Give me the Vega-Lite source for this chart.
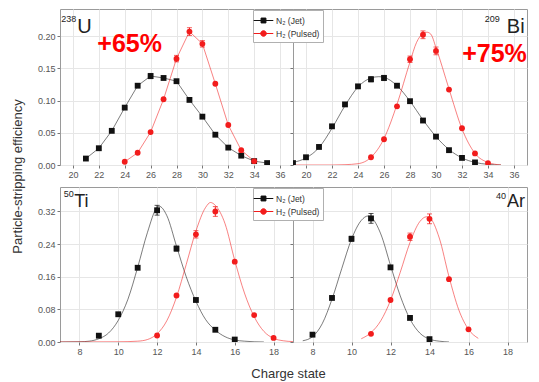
{
"$schema": "https://vega.github.io/schema/vega-lite/v6.json",
"padding": {"left": 10, "top": 8, "right": 5, "bottom": 5},
"config": {
 "view": {"stroke": "#9a9a9a", "strokeWidth": 1},
 "font": "Liberation Sans",
 "axis": {"domain": false, "tickSize": 3, "tickColor": "#777777", "labelFontSize": 9, "labelColor": "#555555", "gridColor": "#e6e6e6", "labelFont": "Liberation Sans", "labelPadding": 2}
},
"datasets": {
 "pts": [
  {"p":"U","s":"N2","q":21,"e":0.010,"err":0},{"p":"U","s":"N2","q":22,"e":0.026,"err":0},{"p":"U","s":"N2","q":23,"e":0.053,"err":0},{"p":"U","s":"N2","q":24,"e":0.089,"err":0},{"p":"U","s":"N2","q":25,"e":0.123,"err":0},{"p":"U","s":"N2","q":26,"e":0.138,"err":0.004},{"p":"U","s":"N2","q":27,"e":0.135,"err":0},{"p":"U","s":"N2","q":28,"e":0.130,"err":0},{"p":"U","s":"N2","q":29,"e":0.101,"err":0},{"p":"U","s":"N2","q":30,"e":0.075,"err":0},{"p":"U","s":"N2","q":31,"e":0.047,"err":0},{"p":"U","s":"N2","q":32,"e":0.027,"err":0},{"p":"U","s":"N2","q":33,"e":0.0145,"err":0},{"p":"U","s":"N2","q":34,"e":0.006,"err":0},{"p":"U","s":"N2","q":35,"e":0.003,"err":0},
  {"p":"U","s":"H2","q":24,"e":0.005,"err":0},{"p":"U","s":"H2","q":25,"e":0.019,"err":0},{"p":"U","s":"H2","q":26,"e":0.051,"err":0},{"p":"U","s":"H2","q":27,"e":0.102,"err":0},{"p":"U","s":"H2","q":28,"e":0.165,"err":0.005},{"p":"U","s":"H2","q":29,"e":0.207,"err":0.006},{"p":"U","s":"H2","q":30,"e":0.188,"err":0.005},{"p":"U","s":"H2","q":31,"e":0.126,"err":0},{"p":"U","s":"H2","q":32,"e":0.062,"err":0},{"p":"U","s":"H2","q":33,"e":0.023,"err":0},{"p":"U","s":"H2","q":34,"e":0.006,"err":0},
  {"p":"Bi","s":"N2","q":19,"e":0.003,"err":0},{"p":"Bi","s":"N2","q":20,"e":0.012,"err":0},{"p":"Bi","s":"N2","q":21,"e":0.028,"err":0},{"p":"Bi","s":"N2","q":22,"e":0.060,"err":0},{"p":"Bi","s":"N2","q":23,"e":0.094,"err":0},{"p":"Bi","s":"N2","q":24,"e":0.122,"err":0},{"p":"Bi","s":"N2","q":25,"e":0.133,"err":0.004},{"p":"Bi","s":"N2","q":26,"e":0.135,"err":0.004},{"p":"Bi","s":"N2","q":27,"e":0.123,"err":0},{"p":"Bi","s":"N2","q":28,"e":0.099,"err":0},{"p":"Bi","s":"N2","q":29,"e":0.069,"err":0},{"p":"Bi","s":"N2","q":30,"e":0.044,"err":0},{"p":"Bi","s":"N2","q":31,"e":0.023,"err":0},{"p":"Bi","s":"N2","q":32,"e":0.011,"err":0},{"p":"Bi","s":"N2","q":33,"e":0.004,"err":0},
  {"p":"Bi","s":"H2","q":25,"e":0.012,"err":0},{"p":"Bi","s":"H2","q":26,"e":0.040,"err":0},{"p":"Bi","s":"H2","q":27,"e":0.091,"err":0},{"p":"Bi","s":"H2","q":28,"e":0.164,"err":0.005},{"p":"Bi","s":"H2","q":29,"e":0.202,"err":0.006},{"p":"Bi","s":"H2","q":30,"e":0.177,"err":0.006},{"p":"Bi","s":"H2","q":31,"e":0.117,"err":0},{"p":"Bi","s":"H2","q":32,"e":0.057,"err":0},{"p":"Bi","s":"H2","q":33,"e":0.018,"err":0},{"p":"Bi","s":"H2","q":34,"e":0.003,"err":0},
  {"p":"Ti","s":"N2","q":9,"e":0.0155,"err":0},{"p":"Ti","s":"N2","q":10,"e":0.068,"err":0},{"p":"Ti","s":"N2","q":11,"e":0.182,"err":0},{"p":"Ti","s":"N2","q":12,"e":0.323,"err":0.012},{"p":"Ti","s":"N2","q":13,"e":0.229,"err":0.006},{"p":"Ti","s":"N2","q":14,"e":0.103,"err":0},{"p":"Ti","s":"N2","q":15,"e":0.030,"err":0},{"p":"Ti","s":"N2","q":16,"e":0.006,"err":0},
  {"p":"Ti","s":"H2","q":12,"e":0.016,"err":0},{"p":"Ti","s":"H2","q":13,"e":0.114,"err":0},{"p":"Ti","s":"H2","q":14,"e":0.264,"err":0.009},{"p":"Ti","s":"H2","q":15,"e":0.320,"err":0.012},{"p":"Ti","s":"H2","q":16,"e":0.197,"err":0},{"p":"Ti","s":"H2","q":17,"e":0.066,"err":0},{"p":"Ti","s":"H2","q":18,"e":0.010,"err":0},
  {"p":"Ar","s":"N2","q":8,"e":0.018,"err":0},{"p":"Ar","s":"N2","q":9,"e":0.108,"err":0},{"p":"Ar","s":"N2","q":10,"e":0.253,"err":0.006},{"p":"Ar","s":"N2","q":11,"e":0.303,"err":0.012},{"p":"Ar","s":"N2","q":12,"e":0.183,"err":0},{"p":"Ar","s":"N2","q":13,"e":0.059,"err":0},{"p":"Ar","s":"N2","q":14,"e":0.007,"err":0},
  {"p":"Ar","s":"H2","q":11,"e":0.020,"err":0},{"p":"Ar","s":"H2","q":12,"e":0.103,"err":0},{"p":"Ar","s":"H2","q":13,"e":0.258,"err":0.009},{"p":"Ar","s":"H2","q":14,"e":0.302,"err":0.012},{"p":"Ar","s":"H2","q":15,"e":0.154,"err":0},{"p":"Ar","s":"H2","q":16,"e":0.031,"err":0}
 ],
 "fit": [
  {"p":"Bi","s":"N2","q":19,"e":0.004},{"p":"Bi","s":"N2","q":20,"e":0.011},{"p":"Bi","s":"N2","q":21,"e":0.027},{"p":"Bi","s":"N2","q":22,"e":0.057},{"p":"Bi","s":"N2","q":23,"e":0.092},{"p":"Bi","s":"N2","q":24,"e":0.121},{"p":"Bi","s":"N2","q":25,"e":0.135},{"p":"Bi","s":"N2","q":25.6,"e":0.137},{"p":"Bi","s":"N2","q":26,"e":0.136},{"p":"Bi","s":"N2","q":27,"e":0.123},{"p":"Bi","s":"N2","q":28,"e":0.099},{"p":"Bi","s":"N2","q":29,"e":0.070},{"p":"Bi","s":"N2","q":30,"e":0.044},{"p":"Bi","s":"N2","q":31,"e":0.024},{"p":"Bi","s":"N2","q":32,"e":0.011},{"p":"Bi","s":"N2","q":33,"e":0.004},{"p":"Bi","s":"N2","q":34,"e":0.001},{"p":"Bi","s":"N2","q":35,"e":0.0},
  {"p":"Bi","s":"H2","q":19,"e":0.0},{"p":"Bi","s":"H2","q":22,"e":0.0},{"p":"Bi","s":"H2","q":23,"e":0.0005},{"p":"Bi","s":"H2","q":24,"e":0.002},{"p":"Bi","s":"H2","q":25,"e":0.012},{"p":"Bi","s":"H2","q":26,"e":0.041},{"p":"Bi","s":"H2","q":27,"e":0.094},{"p":"Bi","s":"H2","q":28,"e":0.160},{"p":"Bi","s":"H2","q":28.5,"e":0.190},{"p":"Bi","s":"H2","q":29,"e":0.204},{"p":"Bi","s":"H2","q":29.3,"e":0.206},{"p":"Bi","s":"H2","q":29.6,"e":0.203},{"p":"Bi","s":"H2","q":30,"e":0.182},{"p":"Bi","s":"H2","q":31,"e":0.118},{"p":"Bi","s":"H2","q":32,"e":0.056},{"p":"Bi","s":"H2","q":33,"e":0.018},{"p":"Bi","s":"H2","q":34,"e":0.004},{"p":"Bi","s":"H2","q":35,"e":0.0},
  {"p":"Ti","s":"N2","q":7,"e":0.0},{"p":"Ti","s":"N2","q":8,"e":0.0005},{"p":"Ti","s":"N2","q":8.5,"e":0.002},{"p":"Ti","s":"N2","q":9,"e":0.008},{"p":"Ti","s":"N2","q":9.5,"e":0.022},{"p":"Ti","s":"N2","q":10,"e":0.053},{"p":"Ti","s":"N2","q":10.5,"e":0.105},{"p":"Ti","s":"N2","q":11,"e":0.183},{"p":"Ti","s":"N2","q":11.5,"e":0.268},{"p":"Ti","s":"N2","q":12,"e":0.330},{"p":"Ti","s":"N2","q":12.1,"e":0.333},{"p":"Ti","s":"N2","q":12.5,"e":0.310},{"p":"Ti","s":"N2","q":13,"e":0.235},{"p":"Ti","s":"N2","q":13.5,"e":0.160},{"p":"Ti","s":"N2","q":14,"e":0.100},{"p":"Ti","s":"N2","q":14.5,"e":0.055},{"p":"Ti","s":"N2","q":15,"e":0.029},{"p":"Ti","s":"N2","q":15.5,"e":0.013},{"p":"Ti","s":"N2","q":16,"e":0.005},{"p":"Ti","s":"N2","q":16.5,"e":0.002},{"p":"Ti","s":"N2","q":17,"e":0.0005},{"p":"Ti","s":"N2","q":17.5,"e":0.0},
  {"p":"Ti","s":"H2","q":7,"e":0.0},{"p":"Ti","s":"H2","q":10,"e":0.0005},{"p":"Ti","s":"H2","q":11,"e":0.002},{"p":"Ti","s":"H2","q":11.5,"e":0.006},{"p":"Ti","s":"H2","q":12,"e":0.020},{"p":"Ti","s":"H2","q":12.5,"e":0.052},{"p":"Ti","s":"H2","q":13,"e":0.110},{"p":"Ti","s":"H2","q":13.5,"e":0.190},{"p":"Ti","s":"H2","q":14,"e":0.272},{"p":"Ti","s":"H2","q":14.5,"e":0.330},{"p":"Ti","s":"H2","q":14.75,"e":0.342},{"p":"Ti","s":"H2","q":15,"e":0.335},{"p":"Ti","s":"H2","q":15.5,"e":0.290},{"p":"Ti","s":"H2","q":16,"e":0.200},{"p":"Ti","s":"H2","q":16.5,"e":0.120},{"p":"Ti","s":"H2","q":17,"e":0.062},{"p":"Ti","s":"H2","q":17.5,"e":0.026},{"p":"Ti","s":"H2","q":18,"e":0.009},{"p":"Ti","s":"H2","q":18.5,"e":0.003},{"p":"Ti","s":"H2","q":19,"e":0.001},
  {"p":"Ar","s":"N2","q":7.5,"e":0.003},{"p":"Ar","s":"N2","q":8,"e":0.013},{"p":"Ar","s":"N2","q":8.5,"e":0.045},{"p":"Ar","s":"N2","q":9,"e":0.105},{"p":"Ar","s":"N2","q":9.5,"e":0.180},{"p":"Ar","s":"N2","q":10,"e":0.252},{"p":"Ar","s":"N2","q":10.5,"e":0.298},{"p":"Ar","s":"N2","q":10.85,"e":0.309},{"p":"Ar","s":"N2","q":11,"e":0.306},{"p":"Ar","s":"N2","q":11.5,"e":0.265},{"p":"Ar","s":"N2","q":12,"e":0.188},{"p":"Ar","s":"N2","q":12.5,"e":0.113},{"p":"Ar","s":"N2","q":13,"e":0.056},{"p":"Ar","s":"N2","q":13.5,"e":0.022},{"p":"Ar","s":"N2","q":14,"e":0.007},{"p":"Ar","s":"N2","q":14.5,"e":0.002},{"p":"Ar","s":"N2","q":15,"e":0.0},
  {"p":"Ar","s":"H2","q":10.5,"e":0.008},{"p":"Ar","s":"H2","q":11,"e":0.023},{"p":"Ar","s":"H2","q":11.5,"e":0.052},{"p":"Ar","s":"H2","q":12,"e":0.102},{"p":"Ar","s":"H2","q":12.5,"e":0.171},{"p":"Ar","s":"H2","q":13,"e":0.244},{"p":"Ar","s":"H2","q":13.5,"e":0.295},{"p":"Ar","s":"H2","q":13.85,"e":0.307},{"p":"Ar","s":"H2","q":14,"e":0.305},{"p":"Ar","s":"H2","q":14.5,"e":0.255},{"p":"Ar","s":"H2","q":15,"e":0.160},{"p":"Ar","s":"H2","q":15.5,"e":0.079},{"p":"Ar","s":"H2","q":16,"e":0.031},{"p":"Ar","s":"H2","q":16.5,"e":0.009}
 ]
},
"resolve": {"legend": {"color": "independent"}},
"columns": 2,
"spacing": {"row": 22, "column": 0},
"bounds": "flush",
"concat": [
  {"width": 233, "height": 156,
   "encoding": {
    "x": {"field": "q", "type": "quantitative", "scale": {"domain": [19, 37], "nice": false, "zero": false}, "axis": {"values": [20,22,24,26,28,30,32,34,36], "format": "d", "title": null, "grid": true}},
    "y": {"field": "e", "type": "quantitative", "scale": {"domain": [0, 0.242], "nice": false, "zero": false}, "axis": {"values": [0,0.05,0.1,0.15,0.2], "format": ".2f", "grid": true, "title": "Particle-stripping efficiency", "titleX": -39, "titleY": 167, "titleAlign": "center", "titleBaseline": "alphabetic", "titleFontSize": 13, "titleFontWeight": "normal", "titleColor": "#333333", "titleFont": "Liberation Sans"}},
    "color": {"field": "s", "type": "nominal", "scale": {"domain": ["N2", "H2"], "range": ["#111111", "#f21c1c"]}, "legend": null}
   },
   "layer": [
   {"data": {"name": "pts"}, "transform": [{"filter": "datum.p === 'U'"}],
    "mark": {"type": "line", "strokeWidth": 1, "opacity": 0.55, "clip": true}},
   {"data": {"name": "pts"}, "transform": [{"filter": "datum.p === 'U' && datum.err > 0"}],
    "mark": {"type": "errorbar", "ticks": true, "thickness": 1},
    "encoding": {"yError": {"field": "err"}}},
   {"data": {"name": "pts"}, "transform": [{"filter": "datum.p === 'U'"}],
    "mark": {"type": "point", "filled": true, "size": 34, "opacity": 1, "clip": true},
    "encoding": {"shape": {"field": "s", "type": "nominal", "scale": {"domain": ["N2", "H2"], "range": ["square", "circle"]}, "legend": null}}},
   {"data": {"name": "pts"}, "transform": [{"filter": "datum.p === 'U' && datum.q === 21 && datum.s === 'N2'"}], "mark": {"type": "text", "fontSize": 9, "align": "center", "baseline": "alphabetic"},
    "encoding": {"x": {"datum": 19.67, "type": "quantitative"}, "y": {"datum": 0.2226, "type": "quantitative"}, "text": {"value": "238"}, "color": {"value": "#222222"}}},
   {"data": {"name": "pts"}, "transform": [{"filter": "datum.p === 'U' && datum.q === 21 && datum.s === 'N2'"}], "mark": {"type": "text", "fontSize": 20, "align": "left", "baseline": "alphabetic"},
    "encoding": {"x": {"datum": 20.33, "type": "quantitative"}, "y": {"datum": 0.2048, "type": "quantitative"}, "text": {"value": "U"}, "color": {"value": "#222222"}}},
   {"data": {"name": "pts"}, "transform": [{"filter": "datum.p === 'U' && datum.q === 21 && datum.s === 'N2'"}], "mark": {"type": "text", "fontSize": 25, "fontWeight": "bold", "align": "center", "baseline": "middle"},
    "encoding": {"x": {"datum": 24.38, "type": "quantitative"}, "y": {"datum": 0.1877, "type": "quantitative"}, "text": {"value": "+65%"}, "color": {"value": "#ff0000"}}}
  ]},
  {"width": 234, "height": 156,
   "encoding": {
    "x": {"field": "q", "type": "quantitative", "scale": {"domain": [19, 37], "nice": false, "zero": false}, "axis": {"values": [20,22,24,26,28,30,32,34,36], "format": "d", "title": null, "grid": true}},
    "y": {"field": "e", "type": "quantitative", "scale": {"domain": [0, 0.242], "nice": false, "zero": false}, "axis": {"values": [0,0.05,0.1,0.15,0.2], "labels": false, "grid": true, "title": null}},
    "color": {"field": "s", "type": "nominal", "legend": {"title": null, "orient": "none", "legendX": -40, "legendY": 1, "direction": "vertical", "fillColor": "#ffffff", "strokeColor": "#b0b0b0", "padding": 3, "labelFontSize": 8.5, "labelColor": "#333333", "labelFont": "Liberation Sans", "symbolSize": 196, "symbolStrokeWidth": 1, "rowPadding": 1, "labelOffset": 5, "labelExpr": "datum.value === 'N2' ? 'N₂ (Jet)' : 'H₂ (Pulsed)'", "encode": {"symbols": {"update": {"shape": {"signal": "datum.value === 'N2' ? 'M-1.4,0H1.4M-0.35,-0.35H0.35V0.35H-0.35Z' : 'M-1.4,0H1.4M0.4,0A0.4,0.4,0,1,1,-0.4,0A0.4,0.4,0,1,1,0.4,0Z'"}, "fill": {"signal": "datum.value === 'N2' ? '#111111' : '#f21c1c'"}, "stroke": {"signal": "datum.value === 'N2' ? '#111111' : '#f21c1c'"}}}}}}
   },
   "layer": [
   {"data": {"name": "fit"}, "transform": [{"filter": "datum.p === 'Bi'"}],
    "mark": {"type": "line", "interpolate": "monotone", "strokeWidth": 1, "opacity": 0.55, "clip": true}},
   {"data": {"name": "pts"}, "transform": [{"filter": "datum.p === 'Bi' && datum.err > 0"}],
    "mark": {"type": "errorbar", "ticks": true, "thickness": 1},
    "encoding": {"yError": {"field": "err"}}},
   {"data": {"name": "pts"}, "transform": [{"filter": "datum.p === 'Bi'"}],
    "mark": {"type": "point", "filled": true, "size": 34, "opacity": 1, "clip": true},
    "encoding": {"shape": {"field": "s", "type": "nominal", "scale": {"domain": ["N2", "H2"], "range": ["square", "circle"]}, "legend": null}}},
   {"data": {"name": "pts"}, "transform": [{"filter": "datum.p === 'Bi' && datum.q === 19 && datum.s === 'N2'"}], "mark": {"type": "text", "fontSize": 9, "align": "right", "baseline": "alphabetic"},
    "encoding": {"x": {"datum": 34.9, "type": "quantitative"}, "y": {"datum": 0.2218, "type": "quantitative"}, "text": {"value": "209"}, "color": {"value": "#222222"}}},
   {"data": {"name": "pts"}, "transform": [{"filter": "datum.p === 'Bi' && datum.q === 19 && datum.s === 'N2'"}], "mark": {"type": "text", "fontSize": 20, "align": "right", "baseline": "alphabetic"},
    "encoding": {"x": {"datum": 36.82, "type": "quantitative"}, "y": {"datum": 0.2053, "type": "quantitative"}, "text": {"value": "Bi"}, "color": {"value": "#222222"}}},
   {"data": {"name": "pts"}, "transform": [{"filter": "datum.p === 'Bi' && datum.q === 19 && datum.s === 'N2'"}], "mark": {"type": "text", "fontSize": 25, "fontWeight": "bold", "align": "center", "baseline": "middle"},
    "encoding": {"x": {"datum": 34.5, "type": "quantitative"}, "y": {"datum": 0.172, "type": "quantitative"}, "text": {"value": "+75%"}, "color": {"value": "#ff0000"}}}
  ]},
  {"width": 233, "height": 155,
   "encoding": {
    "x": {"field": "q", "type": "quantitative", "scale": {"domain": [7, 19], "nice": false, "zero": false}, "axis": {"values": [8,10,12,14,16,18], "format": "d", "grid": true, "title": "Charge state", "titleX": 228, "titleY": 35, "titleAlign": "center", "titleBaseline": "alphabetic", "titleFontSize": 13, "titleFontWeight": "normal", "titleColor": "#333333", "titleFont": "Liberation Sans"}},
    "y": {"field": "e", "type": "quantitative", "scale": {"domain": [0, 0.38], "nice": false, "zero": false}, "axis": {"values": [0,0.08,0.16,0.24,0.32], "format": ".2f", "grid": true, "title": null}},
    "color": {"field": "s", "type": "nominal", "legend": null}
   },
   "layer": [
   {"data": {"name": "fit"}, "transform": [{"filter": "datum.p === 'Ti'"}],
    "mark": {"type": "line", "interpolate": "monotone", "strokeWidth": 1, "opacity": 0.55, "clip": true}},
   {"data": {"name": "pts"}, "transform": [{"filter": "datum.p === 'Ti' && datum.err > 0"}],
    "mark": {"type": "errorbar", "ticks": true, "thickness": 1},
    "encoding": {"yError": {"field": "err"}}},
   {"data": {"name": "pts"}, "transform": [{"filter": "datum.p === 'Ti'"}],
    "mark": {"type": "point", "filled": true, "size": 34, "opacity": 1, "clip": true},
    "encoding": {"shape": {"field": "s", "type": "nominal", "scale": {"domain": ["N2", "H2"], "range": ["square", "circle"]}, "legend": null}}},
   {"data": {"name": "pts"}, "transform": [{"filter": "datum.p === 'Ti' && datum.q === 12 && datum.s === 'N2'"}], "mark": {"type": "text", "fontSize": 9, "align": "left", "baseline": "alphabetic"},
    "encoding": {"x": {"datum": 7.19, "type": "quantitative"}, "y": {"datum": 0.356, "type": "quantitative"}, "text": {"value": "50"}, "color": {"value": "#222222"}}},
   {"data": {"name": "pts"}, "transform": [{"filter": "datum.p === 'Ti' && datum.q === 12 && datum.s === 'N2'"}], "mark": {"type": "text", "fontSize": 18, "align": "left", "baseline": "alphabetic"},
    "encoding": {"x": {"datum": 7.73, "type": "quantitative"}, "y": {"datum": 0.330, "type": "quantitative"}, "text": {"value": "Ti"}, "color": {"value": "#222222"}}}
  ]},
  {"width": 234, "height": 155,
   "encoding": {
    "x": {"field": "q", "type": "quantitative", "scale": {"domain": [7, 19], "nice": false, "zero": false}, "axis": {"values": [8,10,12,14,16,18], "format": "d", "grid": true, "title": null}},
    "y": {"field": "e", "type": "quantitative", "scale": {"domain": [0, 0.38], "nice": false, "zero": false}, "axis": {"values": [0,0.08,0.16,0.24,0.32], "labels": false, "grid": true, "title": null}},
    "color": {"field": "s", "type": "nominal", "legend": {"title": null, "orient": "none", "legendX": -40, "legendY": 1, "direction": "vertical", "fillColor": "#ffffff", "strokeColor": "#b0b0b0", "padding": 3, "labelFontSize": 8.5, "labelColor": "#333333", "labelFont": "Liberation Sans", "symbolSize": 196, "symbolStrokeWidth": 1, "rowPadding": 1, "labelOffset": 5, "labelExpr": "datum.value === 'N2' ? 'N₂ (Jet)' : 'H₂ (Pulsed)'", "encode": {"symbols": {"update": {"shape": {"signal": "datum.value === 'N2' ? 'M-1.4,0H1.4M-0.35,-0.35H0.35V0.35H-0.35Z' : 'M-1.4,0H1.4M0.4,0A0.4,0.4,0,1,1,-0.4,0A0.4,0.4,0,1,1,0.4,0Z'"}, "fill": {"signal": "datum.value === 'N2' ? '#111111' : '#f21c1c'"}, "stroke": {"signal": "datum.value === 'N2' ? '#111111' : '#f21c1c'"}}}}}}
   },
   "layer": [
   {"data": {"name": "fit"}, "transform": [{"filter": "datum.p === 'Ar'"}],
    "mark": {"type": "line", "interpolate": "monotone", "strokeWidth": 1, "opacity": 0.55, "clip": true}},
   {"data": {"name": "pts"}, "transform": [{"filter": "datum.p === 'Ar' && datum.err > 0"}],
    "mark": {"type": "errorbar", "ticks": true, "thickness": 1},
    "encoding": {"yError": {"field": "err"}}},
   {"data": {"name": "pts"}, "transform": [{"filter": "datum.p === 'Ar'"}],
    "mark": {"type": "point", "filled": true, "size": 34, "opacity": 1, "clip": true},
    "encoding": {"shape": {"field": "s", "type": "nominal", "scale": {"domain": ["N2", "H2"], "range": ["square", "circle"]}, "legend": null}}},
   {"data": {"name": "pts"}, "transform": [{"filter": "datum.p === 'Ar' && datum.q === 8 && datum.s === 'N2'"}], "mark": {"type": "text", "fontSize": 9, "align": "right", "baseline": "alphabetic"},
    "encoding": {"x": {"datum": 17.92, "type": "quantitative"}, "y": {"datum": 0.351, "type": "quantitative"}, "text": {"value": "40"}, "color": {"value": "#222222"}}},
   {"data": {"name": "pts"}, "transform": [{"filter": "datum.p === 'Ar' && datum.q === 8 && datum.s === 'N2'"}], "mark": {"type": "text", "fontSize": 18, "align": "right", "baseline": "alphabetic"},
    "encoding": {"x": {"datum": 18.9, "type": "quantitative"}, "y": {"datum": 0.330, "type": "quantitative"}, "text": {"value": "Ar"}, "color": {"value": "#222222"}}}
  ]}
]
}
